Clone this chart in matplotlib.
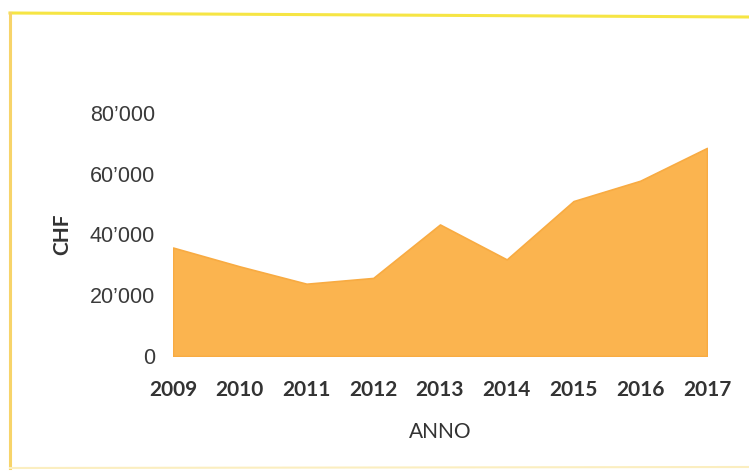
import matplotlib.pyplot as plt
from matplotlib.lines import Line2D
from matplotlib.ticker import FuncFormatter

# dati
anni = [2009, 2010, 2011, 2012, 2013, 2014, 2015, 2016, 2017]
chf = [35700, 29500, 23800, 25700, 43300, 31800, 51000, 57700, 68500]
yticks = [0, 20000, 40000, 60000, 80000]

W, H = 749, 471
fig = plt.figure(figsize=(W / 100, H / 100), dpi=100)
fig.patch.set_facecolor('white')

ax = fig.add_axes([173 / W, 1 - 356 / H, (707 - 173) / W, (356 - 113) / H])
ax.fill_between(anni, chf, 0, color='#fbb44f', linewidth=1.2, edgecolor='#f8ab42')
ax.set_xlim(2009, 2017)
ax.set_ylim(0, 80000)

for s in ax.spines.values():
    s.set_visible(False)

ax.set_xticks(anni)
ax.set_yticks(yticks)
ax.yaxis.set_major_formatter(FuncFormatter(lambda v, p: '0' if v == 0 else f"{int(v):,}".replace(',', '\u2019')))
ax.tick_params(length=0)
ax.tick_params(axis='x', pad=17)
ax.tick_params(axis='y', pad=13)
for t in ax.get_xticklabels():
    t.set_fontfamily('Lato')
    t.set_fontsize(15)
    t.set_fontweight('bold')
    t.set_color('#333333')
for t in ax.get_yticklabels():
    t.set_fontfamily('Liberation Sans')
    t.set_fontsize(15.5)
    t.set_color('#3a3a3a')

fig.text(440 / W, 1 - 432 / H, 'ANNO', ha='center', va='center', fontsize=15,
         family='Lato', color='#333333')
fig.text(62 / W, 1 - 234 / H, 'CHF', ha='center', va='center', fontsize=15,
         family='Lato', fontweight='bold', color='#333333', rotation=90)

# cornice gialla
fig.add_artist(Line2D([10 / W, 1], [1 - 13 / H, 1 - 17 / H], color='#f6e544', lw=2.2))
fig.add_artist(Line2D([10 / W, 10 / W], [1 - 13 / H, 1 - 468 / H], color='#f7d46a', lw=2.2))
fig.add_artist(Line2D([10 / W, 1], [1 - 468 / H, 1 - 467 / H], color='#fbeec0', lw=1.5))

fig.savefig('out.png', dpi=100)
